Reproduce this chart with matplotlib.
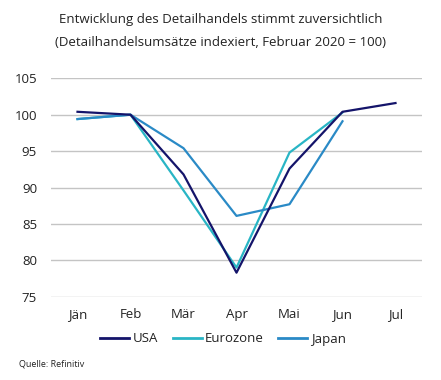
import matplotlib
matplotlib.use("Agg")
import matplotlib.pyplot as plt

months = ["Jän", "Feb", "Mär", "Apr", "Mai", "Jun", "Jul"]
usa = [100.4, 100.0, 91.8, 78.3, 92.6, 100.4, 101.6]
eurozone = [99.4, 100.0, 89.6, 79.0, 94.8, 100.3]
japan = [99.4, 100.0, 95.4, 86.1, 87.7, 99.1]
yticks = [75, 80, 85, 90, 95, 100, 105]

plt.rcParams['font.family'] = ['Open Sans', 'DejaVu Sans']

fig = plt.figure(figsize=(4.41, 3.80), dpi=100)
ax = fig.add_axes([51/441, 1-296.7/380, (422-51)/441, (296.7-78.3)/380])

x = list(range(len(months)))
ax.plot(x[:len(usa)], usa, color="#14146a", lw=1.6, label="USA", zorder=3)
ax.plot(x[:len(eurozone)], eurozone, color="#29b5c5", lw=1.6, label="Eurozone", zorder=2)
ax.plot(x[:len(japan)], japan, color="#2a8ac6", lw=1.6, label="Japan", zorder=2)

ax.set_xlim(-0.5, len(months) - 0.5)
ax.set_ylim(75, 105)
ax.set_yticks(yticks)
ax.set_xticks(x)
ax.set_xticklabels(months)
ax.grid(axis="y", color="#c4c4c4", lw=1.0)
ax.set_axisbelow(True)
for s in ax.spines.values():
    s.set_visible(False)
ax.tick_params(axis="both", length=0, labelsize=9.5, colors="#222222")
ax.tick_params(axis="y", pad=10)
ax.tick_params(axis="x", pad=8)

fig.text(0.5, 1-19/380, "Entwicklung des Detailhandels stimmt zuversichtlich",
         ha="center", va="center", fontsize=9.5, color="#222222")
fig.text(0.5, 1-42/380, "(Detailhandelsumsätze indexiert, Februar 2020 = 100)",
         ha="center", va="center", fontsize=9.5, color="#222222")

leg = fig.legend(loc="center", bbox_to_anchor=(223/441, 1-339/380), ncol=3,
                 frameon=False, fontsize=9.5, handlelength=2.2, handletextpad=0.25,
                 columnspacing=1.1)
for t in leg.get_texts():
    t.set_color("#222222")
for l in leg.get_lines():
    l.set_linewidth(2.0)

fig.text(19/441, 1-364/380, "Quelle: Refinitiv", ha="left", va="center",
         fontsize=6.5, color="#222222")

fig.savefig("out.png", dpi=100)
